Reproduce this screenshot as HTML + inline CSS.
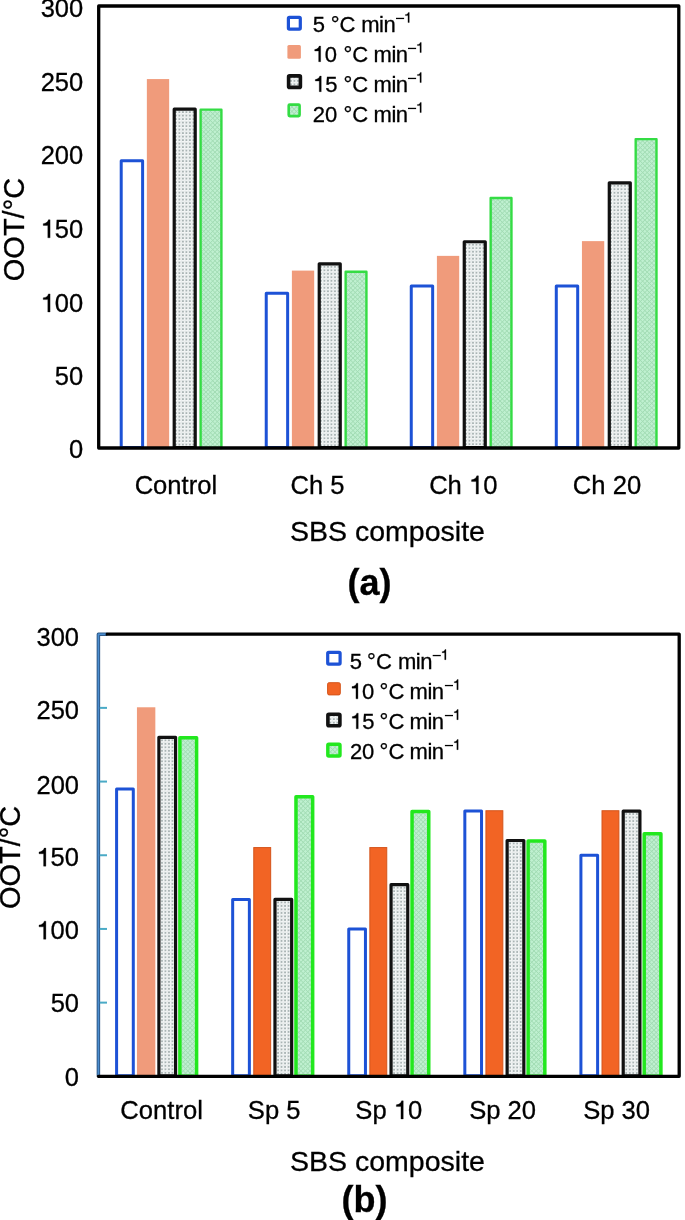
<!DOCTYPE html>
<html><head><meta charset="utf-8">
<style>
html,body{margin:0;padding:0;background:#fff;}
body{width:685px;height:1220px;overflow:hidden;}
svg{display:block;will-change:transform;}
text{-webkit-font-smoothing:antialiased;}
text{font-family:"Liberation Sans",sans-serif;fill:#000;stroke:#000;stroke-width:0.3px;}
.tk{font-size:25.5px;}
.xl{font-size:25.6px;}
.tt{font-size:28.5px;}
.yl{font-size:29px;}
.lg{font-size:22px;}
.sup{font-size:13px;font-family:"Liberation Sans",sans-serif;}
.lm{letter-spacing:-0.5px;}
.pl{font-size:36px;font-weight:bold;}
</style></head>
<body>
<svg width="685" height="1220" viewBox="0 0 685 1220">

<defs>
  <pattern id="dots" width="3.5" height="3.5" patternUnits="userSpaceOnUse">
    <rect width="3.5" height="3.5" fill="#eff2f2"/>
    <circle cx="1.75" cy="1.75" r="0.85" fill="#99a4a4"/>
  </pattern>
  <pattern id="hatch" width="3.2" height="3.2" patternUnits="userSpaceOnUse" patternTransform="rotate(45)">
    <rect width="3.2" height="3.2" fill="#bff0d0"/>
    <rect x="0" y="0" width="0.8" height="3.2" fill="#a2dcb4"/>
    <rect x="0" y="0" width="3.2" height="0.8" fill="#a2dcb4"/>
  </pattern>
</defs>

<defs><pattern id="d0" x="181.21" y="110.38" width="3.5" height="3.5" patternUnits="userSpaceOnUse"><rect width="3.5" height="3.5" fill="#f5f7f7"/><rect x="0" y="0" width="3.5" height="0.5" fill="#dfe5e5"/><rect x="0" y="0" width="0.5" height="3.5" fill="#dfe5e5"/><circle cx="1.75" cy="1.75" r="0.85" fill="#8e9c9c"/></pattern><pattern id="d1" x="326.24" y="265.08" width="3.5" height="3.5" patternUnits="userSpaceOnUse"><rect width="3.5" height="3.5" fill="#f5f7f7"/><rect x="0" y="0" width="3.5" height="0.5" fill="#dfe5e5"/><rect x="0" y="0" width="0.5" height="3.5" fill="#dfe5e5"/><circle cx="1.75" cy="1.75" r="0.85" fill="#8e9c9c"/></pattern><pattern id="d2" x="471.26" y="242.98" width="3.5" height="3.5" patternUnits="userSpaceOnUse"><rect width="3.5" height="3.5" fill="#f5f7f7"/><rect x="0" y="0" width="3.5" height="0.5" fill="#dfe5e5"/><rect x="0" y="0" width="0.5" height="3.5" fill="#dfe5e5"/><circle cx="1.75" cy="1.75" r="0.85" fill="#8e9c9c"/></pattern><pattern id="d3" x="616.29" y="184.05" width="3.5" height="3.5" patternUnits="userSpaceOnUse"><rect width="3.5" height="3.5" fill="#f5f7f7"/><rect x="0" y="0" width="3.5" height="0.5" fill="#dfe5e5"/><rect x="0" y="0" width="0.5" height="3.5" fill="#dfe5e5"/><circle cx="1.75" cy="1.75" r="0.85" fill="#8e9c9c"/></pattern><pattern id="d4" x="292.75" y="75.65" width="3.5" height="3.5" patternUnits="userSpaceOnUse"><rect width="3.5" height="3.5" fill="#f5f7f7"/><rect x="0" y="0" width="3.5" height="0.5" fill="#dfe5e5"/><rect x="0" y="0" width="0.5" height="3.5" fill="#dfe5e5"/><circle cx="1.75" cy="1.75" r="0.85" fill="#8e9c9c"/></pattern><pattern id="d5" x="163.74" y="738.61" width="3.5" height="3.5" patternUnits="userSpaceOnUse"><rect width="3.5" height="3.5" fill="#f5f7f7"/><rect x="0" y="0" width="3.5" height="0.5" fill="#dfe5e5"/><rect x="0" y="0" width="0.5" height="3.5" fill="#dfe5e5"/><circle cx="1.75" cy="1.75" r="0.85" fill="#8e9c9c"/></pattern><pattern id="d6" x="279.82" y="900.71" width="3.5" height="3.5" patternUnits="userSpaceOnUse"><rect width="3.5" height="3.5" fill="#f5f7f7"/><rect x="0" y="0" width="3.5" height="0.5" fill="#dfe5e5"/><rect x="0" y="0" width="0.5" height="3.5" fill="#dfe5e5"/><circle cx="1.75" cy="1.75" r="0.85" fill="#8e9c9c"/></pattern><pattern id="d7" x="395.9" y="885.97" width="3.5" height="3.5" patternUnits="userSpaceOnUse"><rect width="3.5" height="3.5" fill="#f5f7f7"/><rect x="0" y="0" width="3.5" height="0.5" fill="#dfe5e5"/><rect x="0" y="0" width="0.5" height="3.5" fill="#dfe5e5"/><circle cx="1.75" cy="1.75" r="0.85" fill="#8e9c9c"/></pattern><pattern id="d8" x="511.98" y="841.76" width="3.5" height="3.5" patternUnits="userSpaceOnUse"><rect width="3.5" height="3.5" fill="#f5f7f7"/><rect x="0" y="0" width="3.5" height="0.5" fill="#dfe5e5"/><rect x="0" y="0" width="0.5" height="3.5" fill="#dfe5e5"/><circle cx="1.75" cy="1.75" r="0.85" fill="#8e9c9c"/></pattern><pattern id="d9" x="628.06" y="812.29" width="3.5" height="3.5" patternUnits="userSpaceOnUse"><rect width="3.5" height="3.5" fill="#f5f7f7"/><rect x="0" y="0" width="3.5" height="0.5" fill="#dfe5e5"/><rect x="0" y="0" width="0.5" height="3.5" fill="#dfe5e5"/><circle cx="1.75" cy="1.75" r="0.85" fill="#8e9c9c"/></pattern><pattern id="d10" x="332.15" y="713.95" width="3.5" height="3.5" patternUnits="userSpaceOnUse"><rect width="3.5" height="3.5" fill="#f5f7f7"/><rect x="0" y="0" width="3.5" height="0.5" fill="#dfe5e5"/><rect x="0" y="0" width="0.5" height="3.5" fill="#dfe5e5"/><circle cx="1.75" cy="1.75" r="0.85" fill="#8e9c9c"/></pattern></defs>
<rect width="685" height="1220" fill="#fff"/>
<rect x="121.21" y="160.7" width="21.4" height="286.8" fill="#fff" stroke="#1d52d6" stroke-width="3.0" stroke-linejoin="round"/>
<rect x="146.86" y="79.07" width="22.3" height="368.43" fill="#f09b7b"/>
<rect x="174.21" y="109.13" width="21" height="338.37" fill="url(#d0)" stroke="#111" stroke-width="3.2" stroke-linejoin="round"/>
<rect x="200.61" y="109.63" width="20.8" height="338.37" fill="url(#hatch)" stroke="#34dc44" stroke-width="2.4" stroke-linejoin="round"/>
<rect x="266.24" y="293.3" width="21.4" height="154.2" fill="#fff" stroke="#1d52d6" stroke-width="3.0" stroke-linejoin="round"/>
<rect x="291.89" y="270.6" width="22.3" height="176.9" fill="#f09b7b"/>
<rect x="319.24" y="263.83" width="21" height="183.67" fill="url(#d1)" stroke="#111" stroke-width="3.2" stroke-linejoin="round"/>
<rect x="345.64" y="271.7" width="20.8" height="176.3" fill="url(#hatch)" stroke="#34dc44" stroke-width="2.4" stroke-linejoin="round"/>
<rect x="411.26" y="285.93" width="21.4" height="161.57" fill="#fff" stroke="#1d52d6" stroke-width="3.0" stroke-linejoin="round"/>
<rect x="436.91" y="255.87" width="22.3" height="191.63" fill="#f09b7b"/>
<rect x="464.26" y="241.73" width="21" height="205.77" fill="url(#d2)" stroke="#111" stroke-width="3.2" stroke-linejoin="round"/>
<rect x="490.66" y="198.03" width="20.8" height="249.97" fill="url(#hatch)" stroke="#34dc44" stroke-width="2.4" stroke-linejoin="round"/>
<rect x="556.29" y="285.93" width="21.4" height="161.57" fill="#fff" stroke="#1d52d6" stroke-width="3.0" stroke-linejoin="round"/>
<rect x="581.94" y="241.13" width="22.3" height="206.37" fill="#f09b7b"/>
<rect x="609.29" y="182.8" width="21" height="264.7" fill="url(#d3)" stroke="#111" stroke-width="3.2" stroke-linejoin="round"/>
<rect x="635.69" y="139.1" width="20.8" height="308.9" fill="url(#hatch)" stroke="#34dc44" stroke-width="2.4" stroke-linejoin="round"/>
<rect x="98.7" y="6.0" width="580.1" height="442" fill="none" stroke="#000" stroke-width="3.3" stroke-linejoin="round"/>
<text x="83.2" y="457.8" text-anchor="end" class="tk">0</text>
<text x="83.2" y="385.13" text-anchor="end" class="tk">50</text>
<text x="40.65" y="311.97" class="tk"> 00</text><path d="M370 0L370 709L305 709C285 630 215 565 100 555L100 485L280 485L280 0Z" transform="translate(40.65 311.97) scale(0.0255 -0.0255)" stroke="#000" stroke-width="11.8"/>
<text x="40.65" y="237.8" class="tk"> 50</text><path d="M370 0L370 709L305 709C285 630 215 565 100 555L100 485L280 485L280 0Z" transform="translate(40.65 237.8) scale(0.0255 -0.0255)" stroke="#000" stroke-width="11.8"/>
<text x="83.2" y="164.13" text-anchor="end" class="tk">200</text>
<text x="83.2" y="91.47" text-anchor="end" class="tk">250</text>
<text x="83.2" y="16.8" text-anchor="end" class="tk">300</text>
<text x="175.9" y="494" text-anchor="middle" class="xl">Control</text>
<text x="317.5" y="494" text-anchor="middle" class="xl">Ch 5</text>
<text x="429.14" y="494" class="xl">Ch  0</text><path d="M370 0L370 709L305 709C285 630 215 565 100 555L100 485L280 485L280 0Z" transform="translate(468.98 494) scale(0.0256 -0.0256)" stroke="#000" stroke-width="11.7"/>
<text x="607" y="494" text-anchor="middle" class="xl">Ch 20</text>
<text x="387.5" y="540.5" text-anchor="middle" class="tt">SBS composite</text>
<text x="369.6" y="595.3" text-anchor="middle" class="pl">(a)</text>
<text transform="translate(24.1 229.5) rotate(-90)" text-anchor="middle" class="yl">OOT/°C</text>
<rect x="288.4" y="17.4" width="11.9" height="11.7" rx="1" fill="#fff" stroke="#1d52d6" stroke-width="3.2" stroke-linejoin="round"/>
<text x="312.82" y="31.7" class="lg">5</text>
<text x="330.7" y="31.7" class="lg">°C</text>
<text x="361.3" y="31.7" class="lg lm">min</text>
<rect x="396" y="17.8" width="8.1" height="1.3" fill="#000"/>
<path d="M370 0L370 709L305 709C285 630 215 565 100 555L100 485L280 485L280 0Z" transform="translate(403.97 22.55) scale(0.0143 -0.0143)" stroke="#000" stroke-width="21.0"/>
<rect x="287.4" y="45.1" width="13.5" height="13.7" rx="1.5" fill="#f09b7b"/>
<text x="312.5" y="61.7" class="lg"> 0</text><path d="M370 0L370 709L305 709C285 630 215 565 100 555L100 485L280 485L280 0Z" transform="translate(312.5 61.7) scale(0.0220 -0.0220)" stroke="#000" stroke-width="13.6"/>
<text x="343.5" y="61.7" class="lg">°C</text>
<text x="373.6" y="61.7" class="lg lm">min</text>
<rect x="408" y="47.8" width="8.1" height="1.3" fill="#000"/>
<path d="M370 0L370 709L305 709C285 630 215 565 100 555L100 485L280 485L280 0Z" transform="translate(415.97 52.55) scale(0.0143 -0.0143)" stroke="#000" stroke-width="21.0"/>
<rect x="288.6" y="75.9" width="11.8" height="11.5" rx="1" fill="url(#d4)" stroke="#111" stroke-width="3.6" stroke-linejoin="round"/>
<text x="313.1" y="91.7" class="lg"> 5</text><path d="M370 0L370 709L305 709C285 630 215 565 100 555L100 485L280 485L280 0Z" transform="translate(313.1 91.7) scale(0.0220 -0.0220)" stroke="#000" stroke-width="13.6"/>
<text x="343.5" y="91.7" class="lg">°C</text>
<text x="373.6" y="91.7" class="lg lm">min</text>
<rect x="408" y="77.8" width="8.1" height="1.3" fill="#000"/>
<path d="M370 0L370 709L305 709C285 630 215 565 100 555L100 485L280 485L280 0Z" transform="translate(415.97 82.55) scale(0.0143 -0.0143)" stroke="#000" stroke-width="21.0"/>
<rect x="288.7" y="104.6" width="10.9" height="11.5" rx="1" fill="url(#hatch)" stroke="#34dc44" stroke-width="2.6" stroke-linejoin="round"/>
<text x="312.79" y="121.7" class="lg">20</text>
<text x="343.5" y="121.7" class="lg">°C</text>
<text x="373.6" y="121.7" class="lg lm">min</text>
<rect x="408" y="107.8" width="8.1" height="1.3" fill="#000"/>
<path d="M370 0L370 709L305 709C285 630 215 565 100 555L100 485L280 485L280 0Z" transform="translate(415.97 112.55) scale(0.0143 -0.0143)" stroke="#000" stroke-width="21.0"/>
<rect x="116.59" y="788.93" width="16.7" height="286.87" fill="#fff" stroke="#1d52d6" stroke-width="3.0" stroke-linejoin="round"/>
<rect x="136.94" y="707.28" width="18.4" height="368.52" fill="#f09b7b"/>
<rect x="158.89" y="737.36" width="16.7" height="338.44" fill="url(#d5)" stroke="#111" stroke-width="3.2" stroke-linejoin="round"/>
<rect x="179.89" y="737.86" width="16.7" height="338.44" fill="url(#hatch)" stroke="#22e81e" stroke-width="3.5" stroke-linejoin="round"/>
<rect x="232.67" y="899.46" width="16.7" height="176.34" fill="#fff" stroke="#1d52d6" stroke-width="3.0" stroke-linejoin="round"/>
<rect x="253.77" y="847.58" width="16.9" height="228.22" fill="#f26424" stroke="#d4541a" stroke-width="1"/>
<rect x="274.97" y="899.46" width="16.7" height="176.34" fill="url(#d6)" stroke="#111" stroke-width="3.2" stroke-linejoin="round"/>
<rect x="295.97" y="796.8" width="16.7" height="279.5" fill="url(#hatch)" stroke="#22e81e" stroke-width="3.5" stroke-linejoin="round"/>
<rect x="348.75" y="928.93" width="16.7" height="146.87" fill="#fff" stroke="#1d52d6" stroke-width="3.0" stroke-linejoin="round"/>
<rect x="369.85" y="847.58" width="16.9" height="228.22" fill="#f26424" stroke="#d4541a" stroke-width="1"/>
<rect x="391.05" y="884.72" width="16.7" height="191.08" fill="url(#d7)" stroke="#111" stroke-width="3.2" stroke-linejoin="round"/>
<rect x="412.05" y="811.54" width="16.7" height="264.76" fill="url(#hatch)" stroke="#22e81e" stroke-width="3.5" stroke-linejoin="round"/>
<rect x="464.83" y="811.04" width="16.7" height="264.76" fill="#fff" stroke="#1d52d6" stroke-width="3.0" stroke-linejoin="round"/>
<rect x="485.93" y="810.74" width="16.9" height="265.06" fill="#f26424" stroke="#d4541a" stroke-width="1"/>
<rect x="507.13" y="840.51" width="16.7" height="235.29" fill="url(#d8)" stroke="#111" stroke-width="3.2" stroke-linejoin="round"/>
<rect x="528.13" y="841.01" width="16.7" height="235.29" fill="url(#hatch)" stroke="#22e81e" stroke-width="3.5" stroke-linejoin="round"/>
<rect x="580.91" y="855.25" width="16.7" height="220.55" fill="#fff" stroke="#1d52d6" stroke-width="3.0" stroke-linejoin="round"/>
<rect x="602.01" y="810.74" width="16.9" height="265.06" fill="#f26424" stroke="#d4541a" stroke-width="1"/>
<rect x="623.21" y="811.04" width="16.7" height="264.76" fill="url(#d9)" stroke="#111" stroke-width="3.2" stroke-linejoin="round"/>
<rect x="644.21" y="833.64" width="16.7" height="242.65" fill="url(#hatch)" stroke="#22e81e" stroke-width="3.5" stroke-linejoin="round"/>
<path d="M107.2 634.2 H98.4 V1076.3" fill="none" stroke="#2f5a88" stroke-width="3.5" stroke-linejoin="round"/>
<path d="M107.2 634.2 H98.4 V1076.3" fill="none" stroke="#4a8dd0" stroke-width="1.5" stroke-linejoin="round"/>
<path d="M107.2 634.2 H679.2 V1076.3 H98.4" fill="none" stroke="#000" stroke-width="3.3" stroke-linejoin="round" stroke-linecap="round"/>
<line x1="99.8" y1="1002.62" x2="107" y2="1002.62" stroke="#4aaac6" stroke-width="2"/>
<line x1="99.8" y1="928.93" x2="107" y2="928.93" stroke="#4aaac6" stroke-width="2"/>
<line x1="99.8" y1="855.25" x2="107" y2="855.25" stroke="#4aaac6" stroke-width="2"/>
<line x1="99.8" y1="781.57" x2="107" y2="781.57" stroke="#4aaac6" stroke-width="2"/>
<line x1="99.8" y1="707.88" x2="107" y2="707.88" stroke="#4aaac6" stroke-width="2"/>
<text x="79" y="1086.1" text-anchor="end" class="tk">0</text>
<text x="79" y="1012.22" text-anchor="end" class="tk">50</text>
<text x="36.45" y="939.23" class="tk"> 00</text><path d="M370 0L370 709L305 709C285 630 215 565 100 555L100 485L280 485L280 0Z" transform="translate(36.45 939.23) scale(0.0255 -0.0255)" stroke="#000" stroke-width="11.8"/>
<text x="36.45" y="866.15" class="tk"> 50</text><path d="M370 0L370 709L305 709C285 630 215 565 100 555L100 485L280 485L280 0Z" transform="translate(36.45 866.15) scale(0.0255 -0.0255)" stroke="#000" stroke-width="11.8"/>
<text x="79" y="793.67" text-anchor="end" class="tk">200</text>
<text x="79" y="719.48" text-anchor="end" class="tk">250</text>
<text x="79" y="645.6" text-anchor="end" class="tk">300</text>
<text x="161.6" y="1119" text-anchor="middle" class="xl">Control</text>
<text x="274.2" y="1119" text-anchor="middle" class="xl">Sp 5</text>
<text x="355.35" y="1119" class="xl">Sp  0</text><path d="M370 0L370 709L305 709C285 630 215 565 100 555L100 485L280 485L280 0Z" transform="translate(393.78 1119) scale(0.0256 -0.0256)" stroke="#000" stroke-width="11.7"/>
<text x="502.6" y="1119" text-anchor="middle" class="xl">Sp 20</text>
<text x="616.6" y="1119" text-anchor="middle" class="xl">Sp 30</text>
<text x="387.5" y="1171.1" text-anchor="middle" class="tt">SBS composite</text>
<text x="364.5" y="1212.3" text-anchor="middle" class="pl">(b)</text>
<text transform="translate(20.2 857.4) rotate(-90)" text-anchor="middle" class="yl">OOT/°C</text>
<rect x="327.7" y="652.3" width="12.4" height="11.8" rx="1" fill="#fff" stroke="#1d52d6" stroke-width="3.2" stroke-linejoin="round"/>
<text x="349.82" y="668.8" class="lg">5</text>
<text x="367.1" y="668.8" class="lg">°C</text>
<text x="398" y="668.8" class="lg lm">min</text>
<rect x="432.7" y="654.9" width="8.1" height="1.3" fill="#000"/>
<path d="M370 0L370 709L305 709C285 630 215 565 100 555L100 485L280 485L280 0Z" transform="translate(440.67 659.65) scale(0.0143 -0.0143)" stroke="#000" stroke-width="21.0"/>
<rect x="327.6" y="682.7" width="12.7" height="12.2" rx="1.5" fill="#f26424" stroke="#d4541a" stroke-width="1"/>
<text x="349.8" y="698.8" class="lg"> 0</text><path d="M370 0L370 709L305 709C285 630 215 565 100 555L100 485L280 485L280 0Z" transform="translate(349.8 698.8) scale(0.0220 -0.0220)" stroke="#000" stroke-width="13.6"/>
<text x="379.6" y="698.8" class="lg">°C</text>
<text x="409.6" y="698.8" class="lg lm">min</text>
<rect x="444.9" y="684.9" width="8.1" height="1.3" fill="#000"/>
<path d="M370 0L370 709L305 709C285 630 215 565 100 555L100 485L280 485L280 0Z" transform="translate(452.87 689.65) scale(0.0143 -0.0143)" stroke="#000" stroke-width="21.0"/>
<rect x="327.9" y="714.2" width="12" height="11.5" rx="1" fill="url(#d10)" stroke="#111" stroke-width="3.6" stroke-linejoin="round"/>
<text x="350.1" y="728.8" class="lg"> 5</text><path d="M370 0L370 709L305 709C285 630 215 565 100 555L100 485L280 485L280 0Z" transform="translate(350.1 728.8) scale(0.0220 -0.0220)" stroke="#000" stroke-width="13.6"/>
<text x="379.6" y="728.8" class="lg">°C</text>
<text x="409.6" y="728.8" class="lg lm">min</text>
<rect x="444.9" y="714.9" width="8.1" height="1.3" fill="#000"/>
<path d="M370 0L370 709L305 709C285 630 215 565 100 555L100 485L280 485L280 0Z" transform="translate(452.87 719.65) scale(0.0143 -0.0143)" stroke="#000" stroke-width="21.0"/>
<rect x="327.8" y="744.3" width="12.2" height="11.7" rx="1" fill="url(#hatch)" stroke="#22e81e" stroke-width="3.4" stroke-linejoin="round"/>
<text x="349.89" y="758.8" class="lg">20</text>
<text x="379.6" y="758.8" class="lg">°C</text>
<text x="409.6" y="758.8" class="lg lm">min</text>
<rect x="444.9" y="744.9" width="8.1" height="1.3" fill="#000"/>
<path d="M370 0L370 709L305 709C285 630 215 565 100 555L100 485L280 485L280 0Z" transform="translate(452.87 749.65) scale(0.0143 -0.0143)" stroke="#000" stroke-width="21.0"/>
</svg>
</body></html>
